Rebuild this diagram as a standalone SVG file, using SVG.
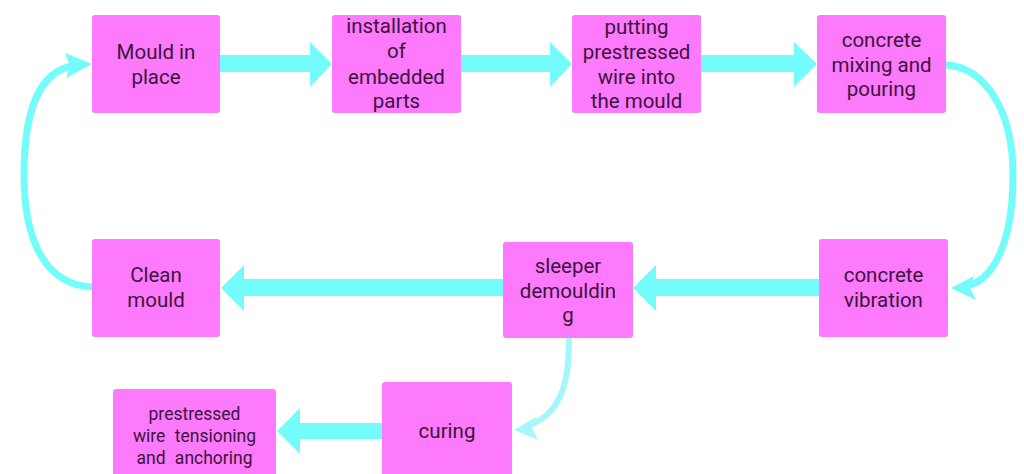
<svg xmlns="http://www.w3.org/2000/svg" width="1024" height="474" viewBox="0 0 1024 474">
<style>
.box{fill:#fd7afc;}
.t{font-family:Roboto,"Open Sans",sans-serif;font-size:20.5px;fill:#3e1340;text-anchor:middle;}
.s{font-size:17.5px;word-spacing:5px;}
.arr{fill:#74fbfb;}
.curve{fill:none;stroke:#74fbfb;stroke-width:7;stroke-linecap:round;}
.curve2{fill:none;stroke:#a6f7fb;stroke-width:6;stroke-linecap:round;}
</style>
<rect width="1024" height="474" fill="#ffffff"/>
<g id="connectors">
<polygon class="arr" points="220,55 310,55 310,42 332,64 310,87 310,72 220,72"/>
<polygon class="arr" points="461,55 550,55 550,42 572,64 550,87 550,72 461,72"/>
<polygon class="arr" points="701,55 794,55 794,42 817,64 794,87 794,72 701,72"/>
<polygon class="arr" points="819,279 656,279 656,265 633,288 656,311 656,296 819,296"/>
<polygon class="arr" points="503,279 244,279 244,265 221,288 244,311 244,296 503,296"/>
<polygon class="arr" points="382,423 300,423 300,408 277,431 300,454 300,439 382,439"/>
<path class="curve" d="M92,287 C45,285 24,240 24,175 C24,110 40,72 72,66"/>
<polygon class="arr" points="92,64 65,53 70,66 66,78"/>
<path class="curve" d="M947,65 C985,68 1013,110 1013,175 C1013,240 995,278 968,286"/>
<polygon class="arr" points="951,288 974,276 970,288 976,300"/>
<path class="curve2" d="M569,340 C569,385 560,412 532,424"/>
<polygon points="514,430 536,417 532,428 538,440" fill="#a6f7fb"/>
</g>
<g id="n1"><rect class="box" x="92" y="15" width="128" height="98" rx="3"/><text class="t" x="156" y="59">Mould in</text><text class="t" x="156" y="84">place</text></g>
<g id="n2"><rect class="box" x="332" y="15" width="129" height="98" rx="3"/><text class="t" x="396.5" y="33">installation</text><text class="t" x="396.5" y="58">of</text><text class="t" x="396.5" y="84">embedded</text><text class="t" x="396.5" y="108">parts</text></g>
<g id="n3"><rect class="box" x="572" y="15" width="129" height="98" rx="3"/><text class="t" x="636.5" y="34">putting</text><text class="t" x="636.5" y="59">prestressed</text><text class="t" x="636.5" y="84">wire into</text><text class="t" x="636.5" y="108">the mould</text></g>
<g id="n4"><rect class="box" x="817" y="15" width="129" height="98" rx="3"/><text class="t" x="881.5" y="47">concrete</text><text class="t" x="881.5" y="72">mixing and</text><text class="t" x="881.5" y="96">pouring</text></g>
<g id="n5"><rect class="box" x="92" y="239" width="128" height="98" rx="3"/><text class="t" x="156" y="282">Clean</text><text class="t" x="156" y="307">mould</text></g>
<g id="n6"><rect class="box" x="503" y="242" width="130" height="96" rx="3"/><text class="t" x="568" y="273">sleeper</text><text class="t" x="568" y="298">demouldin</text><text class="t" x="568" y="322">g</text></g>
<g id="n7"><rect class="box" x="819" y="239" width="129" height="98" rx="3"/><text class="t" x="883.5" y="282">concrete</text><text class="t" x="883.5" y="307">vibration</text></g>
<g id="n8"><rect class="box" x="382" y="382" width="130" height="100" rx="3"/><text class="t" x="447" y="438">curing</text></g>
<g id="n9"><rect class="box" x="113" y="389" width="163" height="93" rx="3"/><text class="t s" x="194.5" y="420">prestressed</text><text class="t s" x="194.5" y="442">wire tensioning</text><text class="t s" x="194.5" y="464">and anchoring</text></g>
</svg>
